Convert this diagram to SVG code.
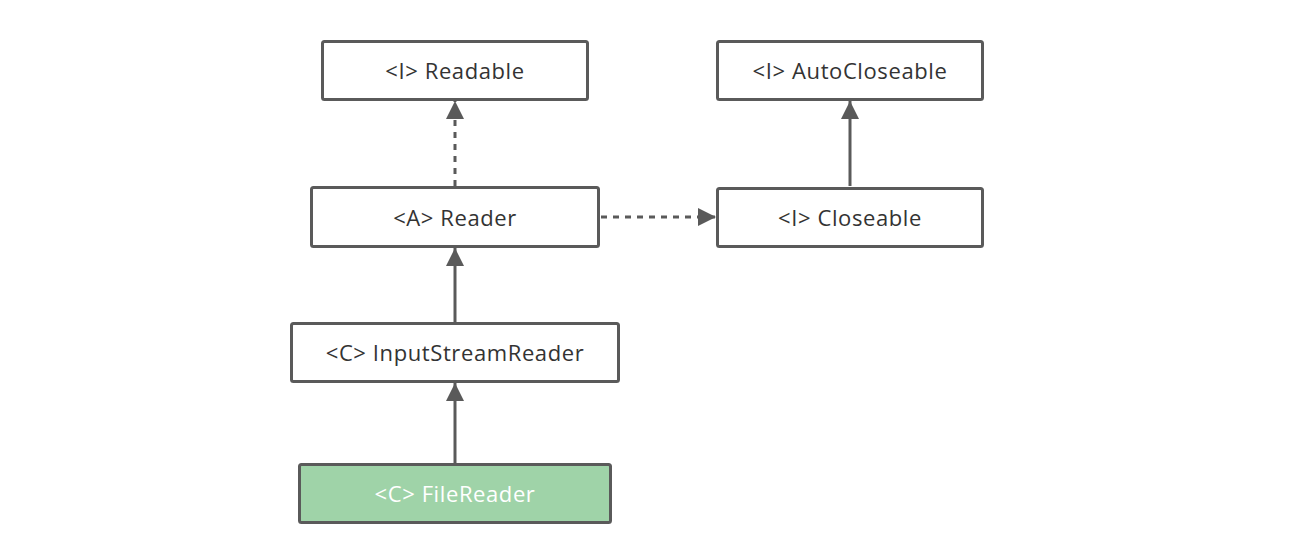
<svg xmlns="http://www.w3.org/2000/svg" width="1292" height="547" viewBox="0 0 1292 547">
  <style>
    .box { fill: #ffffff; stroke: #5a5a5a; stroke-width: 3; }
    .box-hl { fill: #9fd3a8; stroke: #5a5a5a; stroke-width: 3; }
    .label { font-family: "Open Sans", "Noto Sans", sans-serif; font-size: 22px; letter-spacing: 0.6px; fill: #333333; text-anchor: middle; dominant-baseline: central; }
    .label-hl { fill: #ffffff; }
    .edge { fill: none; stroke: #5a5a5a; stroke-width: 3; }
    .dashed { stroke-dasharray: 6 6; }
  </style>
  <defs>
    <marker id="arrow" viewBox="0 0 18 18" refX="18" refY="9" markerWidth="18" markerHeight="18" markerUnits="userSpaceOnUse" orient="auto">
      <path d="M0,0 L18,9 L0,18 Z" fill="#5a5a5a"/>
    </marker>
  </defs>
  <rect width="1292" height="547" fill="#ffffff"/>

  <g id="connectors">
    <!-- Reader implements Readable -->
    <line class="edge dashed" x1="455" y1="186" x2="455" y2="101" marker-end="url(#arrow)"/>
    <!-- Reader implements Closeable -->
    <line class="edge dashed" x1="601" y1="217" x2="716" y2="217" marker-end="url(#arrow)"/>
    <!-- Closeable extends AutoCloseable -->
    <line class="edge" x1="850" y1="186" x2="850" y2="101" marker-end="url(#arrow)"/>
    <!-- InputStreamReader extends Reader -->
    <line class="edge" x1="455" y1="322" x2="455" y2="248" marker-end="url(#arrow)"/>
    <!-- FileReader extends InputStreamReader -->
    <line class="edge" x1="455" y1="463" x2="455" y2="383" marker-end="url(#arrow)"/>
  </g>

  <g id="readable">
    <rect class="box" x="322.5" y="41.5" width="265" height="58" rx="2"/>
    <text class="label" x="455" y="70">&lt;I&gt; Readable</text>
  </g>

  <g id="autocloseable">
    <rect class="box" x="717.5" y="41.5" width="265" height="58" rx="2"/>
    <text class="label" x="850" y="70">&lt;I&gt; AutoCloseable</text>
  </g>

  <g id="reader">
    <rect class="box" x="311.5" y="187.5" width="287" height="59" rx="2"/>
    <text class="label" x="455" y="217">&lt;A&gt; Reader</text>
  </g>

  <g id="closeable">
    <rect class="box" x="717.5" y="188.5" width="265" height="58" rx="2"/>
    <text class="label" x="850" y="217">&lt;I&gt; Closeable</text>
  </g>

  <g id="inputstreamreader">
    <rect class="box" x="291.5" y="323.5" width="327" height="58" rx="2"/>
    <text class="label" x="455" y="352">&lt;C&gt; InputStreamReader</text>
  </g>

  <g id="filereader">
    <rect class="box-hl" x="299.5" y="464.5" width="311" height="58" rx="2"/>
    <text class="label label-hl" x="455" y="493">&lt;C&gt; FileReader</text>
  </g>
</svg>
